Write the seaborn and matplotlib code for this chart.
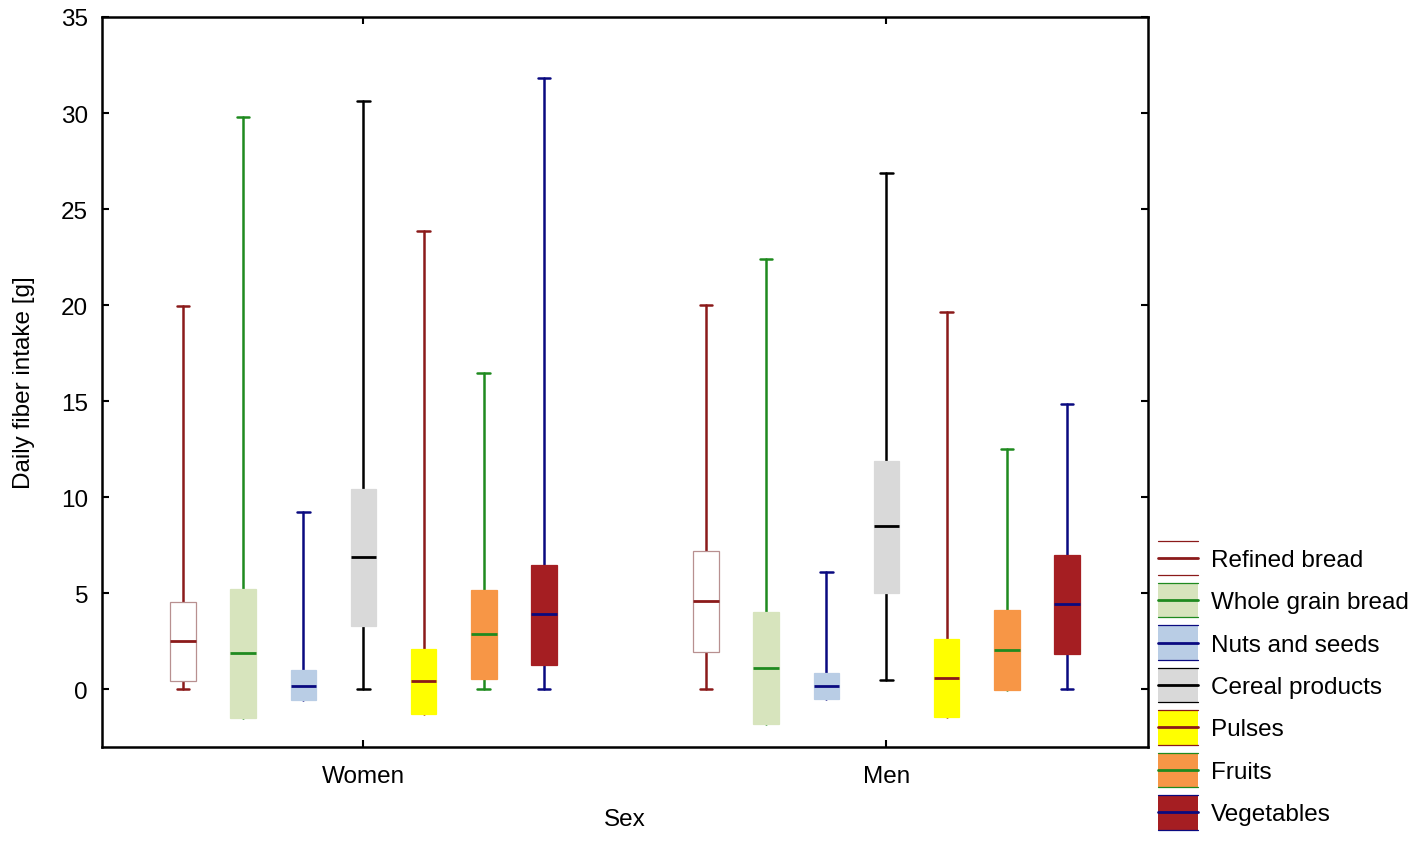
#!/usr/bin/env python3

import matplotlib
matplotlib.use("Agg")
import matplotlib.pyplot as plt
import seaborn as sns
from matplotlib.patches import Rectangle
from matplotlib.lines import Line2D
from matplotlib.legend_handler import HandlerBase

# daily fiber intake by food group and sex: min, box bottom, middle line, box top, max
sexes = ["Women", "Men"]
groups = ["Refined bread", "Whole grain bread", "Nuts and seeds", "Cereal products",
          "Pulses", "Fruits", "Vegetables"]

w_min = [0, 0, 0, 0, 0, 0, 0]
w_low = [0.43, -1.47, -0.55, 3.31, -1.27, 0.54, 1.28]
w_mid = [2.51, 1.87, 0.19, 6.9, 0.41, 2.86, 3.9]
w_high = [4.57, 5.22, 0.99, 10.45, 2.1, 5.17, 6.48]
w_max = [19.97, 29.8, 9.24, 30.63, 23.87, 16.48, 31.8]

m_min = [0, 0, 0, 0.5, 0, 0, 0]
m_low = [1.96, -1.82, -0.5, 5.04, -1.42, -0.05, 1.86]
m_mid = [4.58, 1.13, 0.19, 8.48, 0.61, 2.06, 4.44]
m_high = [7.18, 4.04, 0.85, 11.89, 2.63, 4.12, 7.0]
m_max = [20.0, 22.4, 6.1, 26.9, 19.66, 12.53, 14.87]

box_colors = ["#ffffff", "#d7e4bd", "#b9cde5", "#d9d9d9", "#ffff00", "#f79646", "#a51e22"]
line_colors = ["#8b1a1a", "#1f8a1f", "#0a0a80", "#000000", "#8b1a1a", "#1f8a1f", "#0a0a80"]
edge_colors = ["#b89090", "#d7e4bd", "#b9cde5", "#d9d9d9", "#ffff00", "#f79646", "#a51e22"]

stats_by_sex = {
    "Women": (w_min, w_low, w_mid, w_high, w_max),
    "Men": (m_min, m_low, m_mid, m_high, m_max),
}


class BoxKey:
    def __init__(self, face, line):
        self.face = face
        self.line = line


class BoxKeyHandler(HandlerBase):
    # filled box with thin top/bottom edges and a median line, like the plot
    def create_artists(self, legend, orig, xd, yd, width, height, fontsize, trans):
        x0, y0 = -xd, -yd
        out = [Rectangle((x0, y0), width, height, facecolor=orig.face,
                         edgecolor="none", transform=trans)]
        for y, lw in [(y0, 0.9), (y0 + height, 0.9), (y0 + height / 2, 2)]:
            out.append(Line2D([x0, x0 + width], [y, y], color=orig.line,
                              linewidth=lw, transform=trans))
        return out


sns.set_style("ticks")
plt.rcParams["font.family"] = ["Liberation Sans", "DejaVu Sans"]
plt.rcParams["text.color"] = "black"
plt.rcParams["axes.labelcolor"] = "black"

fs = 17.5

fig = plt.figure(figsize=(14.18, 8.45), dpi=100)
ax = fig.add_axes([0.0719, 0.1148, 0.7377, 0.8639])

step = 0.115
for si, sex in enumerate(sexes):
    lo_w, lo_b, mid, hi_b, hi_w = stats_by_sex[sex]
    for gi in range(len(groups)):
        st = [{"whislo": lo_w[gi], "q1": lo_b[gi], "med": mid[gi],
               "q3": hi_b[gi], "whishi": hi_w[gi], "fliers": []}]
        ax.bxp(st, positions=[si + (gi - 3) * step], widths=0.049,
               patch_artist=True, showfliers=False, manage_ticks=False,
               boxprops=dict(facecolor=box_colors[gi], edgecolor=edge_colors[gi],
                             linewidth=0.9, zorder=3),
               medianprops=dict(color=line_colors[gi], linewidth=2, zorder=4),
               whiskerprops=dict(color=line_colors[gi], linewidth=1.8, zorder=2),
               capprops=dict(color=line_colors[gi], linewidth=1.8, zorder=2),
               capwidths=0.024)

ax.set_xlim(-0.5, 1.5)
ax.set_ylim(-3, 35)
ax.set_xticks([0, 1])
ax.set_xticklabels(sexes)
ax.set_yticks(range(0, 36, 5))
ax.tick_params(direction="in", top=True, right=True, length=5, width=1.5,
               labelsize=fs, colors="black")
ax.tick_params(axis="x", pad=13)
ax.tick_params(axis="y", pad=10)
for sp in ax.spines.values():
    sp.set_linewidth(1.8)
    sp.set_color("black")
ax.set_xlabel("Sex", fontsize=fs, labelpad=15)
ax.set_ylabel("Daily fiber intake [g]", fontsize=fs, labelpad=19)

keys = [BoxKey(box_colors[gi], line_colors[gi]) for gi in range(len(groups))]
fig.legend(keys, groups, handler_map={BoxKey: BoxKeyHandler()},
           loc="upper left", bbox_to_anchor=(0.8166, 0.359), frameon=False,
           fontsize=fs, handlelength=1.65, handleheight=1.8, labelspacing=0.33,
           handletextpad=0.53, borderaxespad=0, borderpad=0)

fig.savefig("out.png", dpi=100)
